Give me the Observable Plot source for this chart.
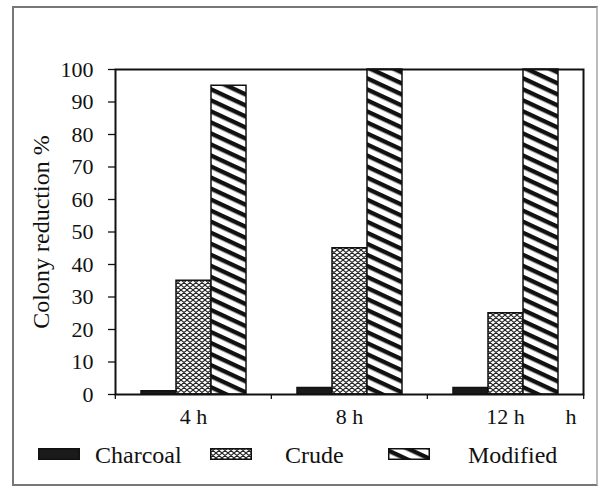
<!DOCTYPE html>
<html>
<head>
<meta charset="utf-8">
<script src="https://cdn.jsdelivr.net/npm/d3@7"></script>
<script src="https://cdn.jsdelivr.net/npm/@observablehq/plot@0.6"></script>
<style>
  html, body { margin: 0; padding: 0; background: #fff; }
  body { width: 600px; height: 486px; position: relative; overflow: hidden; font-family: "Liberation Serif", "DejaVu Serif", serif; }
  #border { position: absolute; left: 12px; top: 6px; width: 586px; height: 480px; box-sizing: border-box; border: 2px solid #777; border-right-color: #bbb; }
  #chart { position: absolute; left: 0; top: 0; }
  #legend { position: absolute; left: 0; top: 0; width: 600px; height: 486px; pointer-events: none; }
  .sw { position: absolute; top: 448px; width: 42px; height: 12px; }
  .lt { position: absolute; top: 443px; font-size: 24px; line-height: 24px; color: #111; white-space: nowrap; }
</style>
</head>
<body>
<div id="border"></div>
<div id="chart"></div>
<div id="legend"></div>
<script>
// ---- data ----
const times = ["4 h", "8 h", "12 h"];
const series = ["Charcoal", "Crude", "Modified"];
const charcoal = [1, 2, 2];
const crude = [35, 45, 25];
const modified = [95, 100, 100];
const yTicks = [0, 10, 20, 30, 40, 50, 60, 70, 80, 90, 100];

const values = [charcoal, crude, modified];
const data = times.flatMap((t, i) => series.map((s, j) => ({time: t, series: s, value: values[j][i]})));
const fills = ["#1a1a1a", "url(#pat-crude)", "url(#pat-mod)"];
const FONT = "'Liberation Serif', 'DejaVu Serif', serif";

// ---- shared pattern defs ----
const defsSvg = d3.select("body").append("svg")
  .attr("width", 0).attr("height", 0).style("position", "absolute");
const defs = defsSvg.append("defs");
const pc = defs.append("pattern").attr("id", "pat-crude")
  .attr("patternUnits", "userSpaceOnUse").attr("width", 6).attr("height", 5);
pc.append("rect").attr("width", 6).attr("height", 5).attr("fill", "#fff");
pc.append("path").attr("d", "M0,0L6,5M6,0L0,5M-3,2.5L0,5M3,-2.5L6,0")
  .attr("stroke", "#222").attr("stroke-width", 1.1).attr("fill", "none");
const pm = defs.append("pattern").attr("id", "pat-mod")
  .attr("patternUnits", "userSpaceOnUse").attr("width", 10).attr("height", 10)
  .attr("patternTransform", "rotate(25)");
pm.append("rect").attr("width", 10).attr("height", 10).attr("fill", "#fff");
pm.append("rect").attr("width", 10).attr("height", 4.4).attr("fill", "#111");

// ---- chart ----
const W = 600, H = 440;
const facetHalf = (W - 114 - 17) / times.length / 2;
const chart = Plot.plot({
  width: W,
  height: H,
  marginLeft: 114,
  marginRight: 17,
  marginTop: 69,
  marginBottom: 46,
  style: {fontFamily: FONT, fontSize: "22px", color: "#111", background: "transparent", overflow: "visible"},
  fx: {domain: times, padding: 0, label: null},
  x: {domain: series, paddingInner: 0, paddingOuter: 0.675, axis: null},
  y: {domain: [0, 100], axis: null},
  color: {type: "ordinal", domain: series, range: fills},
  marks: [
    Plot.barY(data, {fx: "time", x: "series", y: "value", fill: "series", stroke: "#111", strokeWidth: 1.5}),
    Plot.frame({facet: "super", stroke: "#111", strokeWidth: 2}),
    Plot.axisY({ticks: yTicks, tickSize: 7, tickPadding: 15, fontSize: 22, strokeWidth: 1.3,
      label: "Colony reduction %", labelAnchor: "center", labelArrow: "none", labelOffset: 84}),
    Plot.axisFx({anchor: "bottom", tickSize: 0, tickPadding: 14, fontSize: 22,
      label: "h", labelAnchor: "right", labelArrow: "none", labelOffset: 36}),
    Plot.axisFx({anchor: "bottom", tickSize: 5, tickFormat: null, label: null, dx: -facetHalf, strokeWidth: 1.3}),
    Plot.axisFx({anchor: "bottom", ticks: [times[times.length - 1]], tickSize: 5, tickFormat: null, label: null, dx: facetHalf, strokeWidth: 1.3})
  ]
});
document.getElementById("chart").appendChild(chart);
const svg = d3.select(chart);
svg.selectAll("text").attr("font-family", FONT);
svg.select('[aria-label="y-axis label"]').attr("font-size", 24);
const hl = svg.select('[aria-label="fx-axis label"]');
hl.attr("transform", (hl.attr("transform") || "") + " translate(-21,-7)");

// ---- legend ----
const swLeft = [38, 210, 388];
const txLeft = [95, 285, 468];
const legend = d3.select("#legend");
series.forEach((s, i) => {
  const sv = legend.append("svg").attr("class", "sw").style("left", swLeft[i] + "px")
    .attr("width", 42).attr("height", 12);
  sv.append("rect").attr("x", 0.75).attr("y", 0.75).attr("width", 40.5).attr("height", 10.5)
    .attr("fill", fills[i]).attr("stroke", "#111").attr("stroke-width", 1.5);
  legend.append("div").attr("class", "lt").style("left", txLeft[i] + "px").text(s);
});
</script>
</body>
</html>
